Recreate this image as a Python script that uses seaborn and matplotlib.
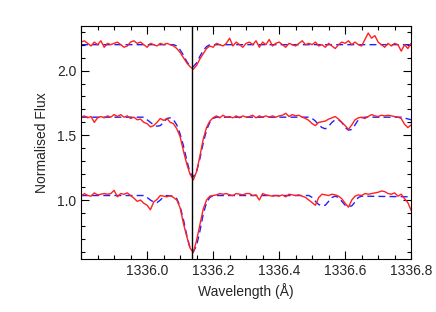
import numpy as np
import pandas as pd
import matplotlib
matplotlib.use("Agg")
import matplotlib.pyplot as plt
from matplotlib.ticker import MultipleLocator, FormatStrFormatter
import seaborn as sns

# observed spectra, sampled every 0.01 A from 1335.80 to 1336.80
wave = np.round(np.arange(1335.80, 1336.805, 0.01), 2)

flux_top = [
    2.22, 2.23, 2.21, 2.19, 2.22, 2.20, 2.23, 2.18, 2.21, 2.20,
    2.21, 2.22, 2.20, 2.18, 2.19, 2.22, 2.23, 2.21, 2.22, 2.20,
    2.18, 2.21, 2.20, 2.19, 2.21, 2.20, 2.21, 2.20, 2.19, 2.17,
    2.14, 2.10, 2.06, 2.03, 2.01, 2.04, 2.09, 2.13, 2.17, 2.19,
    2.18, 2.21, 2.20, 2.19, 2.21, 2.25, 2.19, 2.22, 2.20, 2.18,
    2.21, 2.22, 2.20, 2.23, 2.18, 2.22, 2.20, 2.24, 2.19, 2.21,
    2.22, 2.20, 2.18, 2.21, 2.20, 2.19, 2.21, 2.23, 2.20, 2.21,
    2.20, 2.22, 2.19, 2.20, 2.18, 2.21, 2.19, 2.17, 2.20, 2.22,
    2.21, 2.23, 2.20, 2.22, 2.20, 2.19, 2.24, 2.29, 2.25, 2.27,
    2.22, 2.20, 2.18, 2.21, 2.19, 2.21, 2.20, 2.15, 2.20, 2.17,
    2.21,
]

flux_mid = [
    1.640, 1.650, 1.635, 1.645, 1.600, 1.635, 1.645, 1.635, 1.650, 1.640,
    1.660, 1.645, 1.660, 1.640, 1.650, 1.630, 1.640, 1.620, 1.625, 1.600,
    1.590, 1.565, 1.575, 1.600, 1.630, 1.615, 1.630, 1.600, 1.590, 1.550,
    1.490, 1.380, 1.280, 1.200, 1.155, 1.220, 1.340, 1.470, 1.560, 1.610,
    1.635, 1.650, 1.635, 1.655, 1.640, 1.645, 1.635, 1.650, 1.635, 1.650,
    1.640, 1.645, 1.655, 1.635, 1.650, 1.640, 1.650, 1.640, 1.650, 1.640,
    1.650, 1.655, 1.670, 1.645, 1.660, 1.650, 1.655, 1.640, 1.630, 1.615,
    1.590, 1.575, 1.600, 1.605, 1.610, 1.625, 1.635, 1.645, 1.625, 1.600,
    1.575, 1.545, 1.580, 1.620, 1.635, 1.640, 1.630, 1.645, 1.660, 1.650,
    1.645, 1.655, 1.650, 1.655, 1.650, 1.645, 1.640, 1.630, 1.585, 1.560,
    1.580,
]

flux_bot = [
    1.030, 1.050, 1.035, 1.030, 1.055, 1.040, 1.045, 1.050, 1.045, 1.050,
    1.075, 1.025, 1.050, 1.045, 1.055, 1.035, 1.015, 0.990, 1.000, 0.975,
    0.960, 0.925, 0.985, 1.005, 1.035, 1.030, 1.025, 1.035, 1.020, 1.000,
    0.940, 0.820, 0.720, 0.630, 0.595, 0.690, 0.810, 0.930, 1.000, 1.030,
    1.035, 1.040, 1.050, 1.045, 1.050, 1.040, 1.035, 1.050, 1.045, 1.040,
    1.050, 1.050, 1.035, 1.040, 1.000, 1.050, 1.040, 1.035, 1.030, 1.035,
    1.030, 1.040, 1.025, 1.045, 1.040, 1.035, 1.040, 1.030, 1.020, 1.000,
    0.980, 0.960, 1.020, 1.045, 1.040, 1.035, 1.045, 1.040, 1.030, 1.010,
    0.975, 0.945, 1.000, 1.030, 1.040, 1.035, 1.050, 1.045, 1.050, 1.055,
    1.060, 1.070, 1.065, 1.050, 1.045, 1.055, 1.030, 1.045, 1.010, 0.980,
    0.920,
]

# model fits (vertices of the dashed curves)
model_top_wave = [1335.80, 1336.08, 1336.09, 1336.10, 1336.11, 1336.12, 1336.13,
                  1336.14, 1336.15, 1336.16, 1336.17, 1336.18, 1336.19, 1336.80]
model_top_flux = [2.20, 2.20, 2.19, 2.16, 2.12, 2.07, 2.035,
                  2.03, 2.06, 2.11, 2.155, 2.185, 2.20, 2.20]

model_mid_wave = [1335.80, 1335.99, 1336.00, 1336.01, 1336.02, 1336.03, 1336.04,
                  1336.05, 1336.06, 1336.07, 1336.08, 1336.09, 1336.10, 1336.11,
                  1336.12, 1336.13, 1336.14, 1336.15, 1336.16, 1336.17, 1336.18,
                  1336.19, 1336.20, 1336.21, 1336.49, 1336.50, 1336.51, 1336.52,
                  1336.53, 1336.54, 1336.55, 1336.56, 1336.57, 1336.58, 1336.59,
                  1336.60, 1336.61, 1336.62, 1336.63, 1336.64, 1336.65, 1336.66,
                  1336.77, 1336.80]
model_mid_flux = [1.64, 1.64, 1.62, 1.60, 1.58, 1.57, 1.575,
                  1.60, 1.63, 1.635, 1.62, 1.58, 1.51, 1.42,
                  1.31, 1.21, 1.18, 1.22, 1.32, 1.44, 1.54,
                  1.60, 1.63, 1.64, 1.64, 1.63, 1.61, 1.58,
                  1.56, 1.55, 1.57, 1.60, 1.62, 1.62, 1.60,
                  1.56, 1.54, 1.545, 1.58, 1.62, 1.635, 1.64,
                  1.64, 1.62]

model_bot_wave = [1335.80, 1335.99, 1336.00, 1336.01, 1336.02, 1336.03, 1336.04,
                  1336.05, 1336.06, 1336.08, 1336.09, 1336.10, 1336.11, 1336.12,
                  1336.13, 1336.14, 1336.15, 1336.16, 1336.17, 1336.18, 1336.19,
                  1336.20, 1336.49, 1336.50, 1336.51, 1336.52, 1336.53, 1336.54,
                  1336.55, 1336.56, 1336.57, 1336.58, 1336.59, 1336.60, 1336.61,
                  1336.62, 1336.63, 1336.64, 1336.65, 1336.80]
model_bot_flux = [1.035, 1.035, 1.02, 1.00, 0.985, 0.98, 1.00,
                  1.025, 1.035, 1.03, 1.01, 0.95, 0.85, 0.73,
                  0.63, 0.60, 0.65, 0.76, 0.89, 0.98, 1.02,
                  1.035, 1.035, 1.02, 0.99, 0.965, 0.955, 0.96,
                  0.99, 1.02, 1.03, 1.02, 0.99, 0.96, 0.95,
                  0.955, 0.985, 1.02, 1.03, 1.025]

x_ticks = [1335.8, 1336.0, 1336.2, 1336.4, 1336.6, 1336.8]
x_tick_labels = ["", "1336.0", "1336.2", "1336.4", "1336.6", "1336.8"]

line_centre = 1336.137

sns.set_style("ticks")
plt.rcParams["font.family"] = ["Liberation Sans", "DejaVu Sans"]

fig = plt.figure(figsize=(4.36, 3.12), dpi=100)
ax = fig.add_axes([0.186, 0.170, 0.757, 0.747])

for mw, mf in [(model_top_wave, model_top_flux),
               (model_mid_wave, model_mid_flux),
               (model_bot_wave, model_bot_flux)]:
    sns.lineplot(x=mw, y=mf, ax=ax, color="#2020ff", linewidth=1.0,
                 linestyle=(0, (5, 3)), sort=False)

for fl in [flux_top, flux_mid, flux_bot]:
    sns.lineplot(x=wave, y=fl, ax=ax, color="#ff2020", linewidth=1.0, sort=False)

ax.axvline(line_centre, color="black", linewidth=1.0)

ax.set_xlim(1335.8, 1336.8)
ax.set_ylim(0.545, 2.345)
ax.set_xticks(x_ticks)
ax.set_xticklabels(x_tick_labels)
ax.xaxis.set_minor_locator(MultipleLocator(0.05))
ax.yaxis.set_major_locator(MultipleLocator(0.5))
ax.yaxis.set_minor_locator(MultipleLocator(0.1))
ax.yaxis.set_major_formatter(FormatStrFormatter("%.1f"))
ax.tick_params(which="both", direction="in", top=True, right=True,
               labelsize=10, width=0.8, color="black")
ax.tick_params(which="major", length=6)
ax.tick_params(which="minor", length=3)
for s in ax.spines.values():
    s.set_linewidth(0.8)
    s.set_color("black")

ax.set_xlabel("Wavelength (Å)", fontsize=10)
ax.set_ylabel("Normalised Flux", fontsize=10, labelpad=6)

fig.savefig("out.png", dpi=100)
